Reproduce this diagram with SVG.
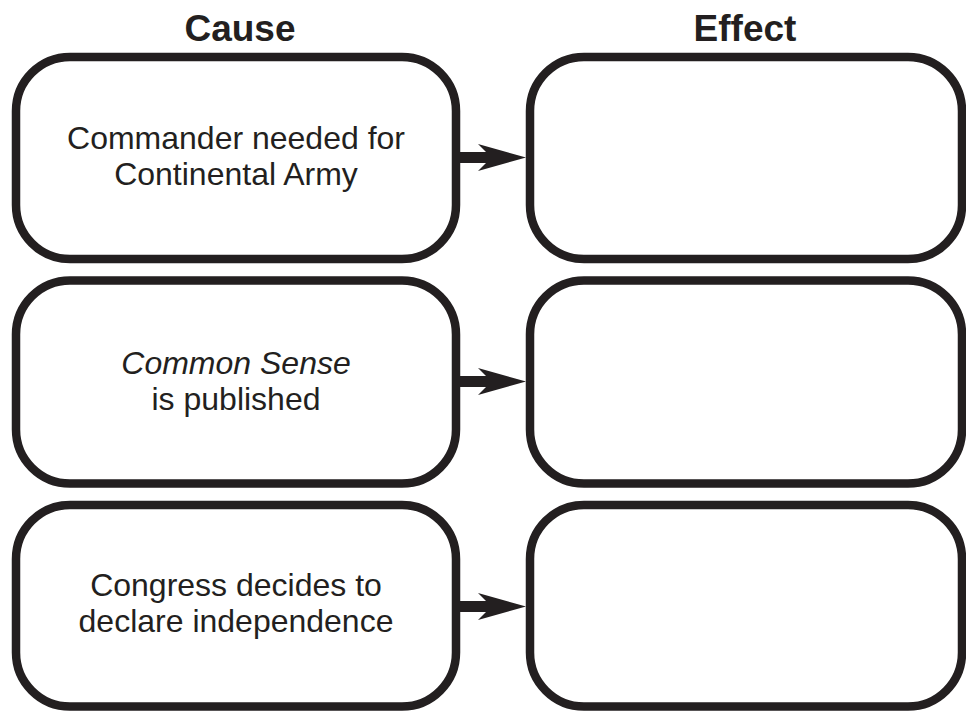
<svg xmlns="http://www.w3.org/2000/svg" width="966" height="711" viewBox="0 0 966 711">
<style>
.box{fill:#fff;stroke:#231f20;stroke-width:8.5}
.hdr{font-family:"Liberation Sans",Arial,sans-serif;font-weight:bold;font-size:37px;fill:#231f20;text-anchor:middle}
.txt{font-family:"Liberation Sans",Arial,sans-serif;font-size:32px;fill:#231f20;text-anchor:middle}
.arr{fill:#231f20}
</style>
<rect width="966" height="711" fill="#fff"/>
<text class="hdr" x="240" y="41">Cause</text>
<text class="hdr" x="745" y="41">Effect</text>
<g id="cause1"><rect class="box" x="16" y="57" width="440" height="202" rx="54"/>
<text class="txt" x="236" y="149">Commander needed for</text>
<text class="txt" x="236" y="185">Continental Army</text></g>
<g id="cause2"><rect class="box" x="16" y="280.5" width="440" height="203" rx="54"/>
<text class="txt" x="236" y="374" font-style="italic">Common Sense</text>
<text class="txt" x="236" y="410">is published</text></g>
<g id="cause3"><rect class="box" x="16" y="505" width="440" height="201.5" rx="54"/>
<text class="txt" x="236" y="596">Congress decides to</text>
<text class="txt" x="236" y="632">declare independence</text></g>
<g id="effect1"><rect class="box" x="530" y="57" width="432" height="202" rx="54"/></g>
<g id="effect2"><rect class="box" x="530" y="280.5" width="432" height="203" rx="54"/></g>
<g id="effect3"><rect class="box" x="530" y="505" width="432" height="201.5" rx="54"/></g>
<g id="connectors">
<path class="arr" d="M458,152 L486,152 L478,144 L526,157.5 L478,171 L486,163 L458,163 Z"/>
<path class="arr" d="M458,376 L486,376 L478,368 L526,381.5 L478,395 L486,387 L458,387 Z"/>
<path class="arr" d="M458,601 L486,601 L478,593 L526,606.5 L478,620 L486,612 L458,612 Z"/>
</g>
</svg>
